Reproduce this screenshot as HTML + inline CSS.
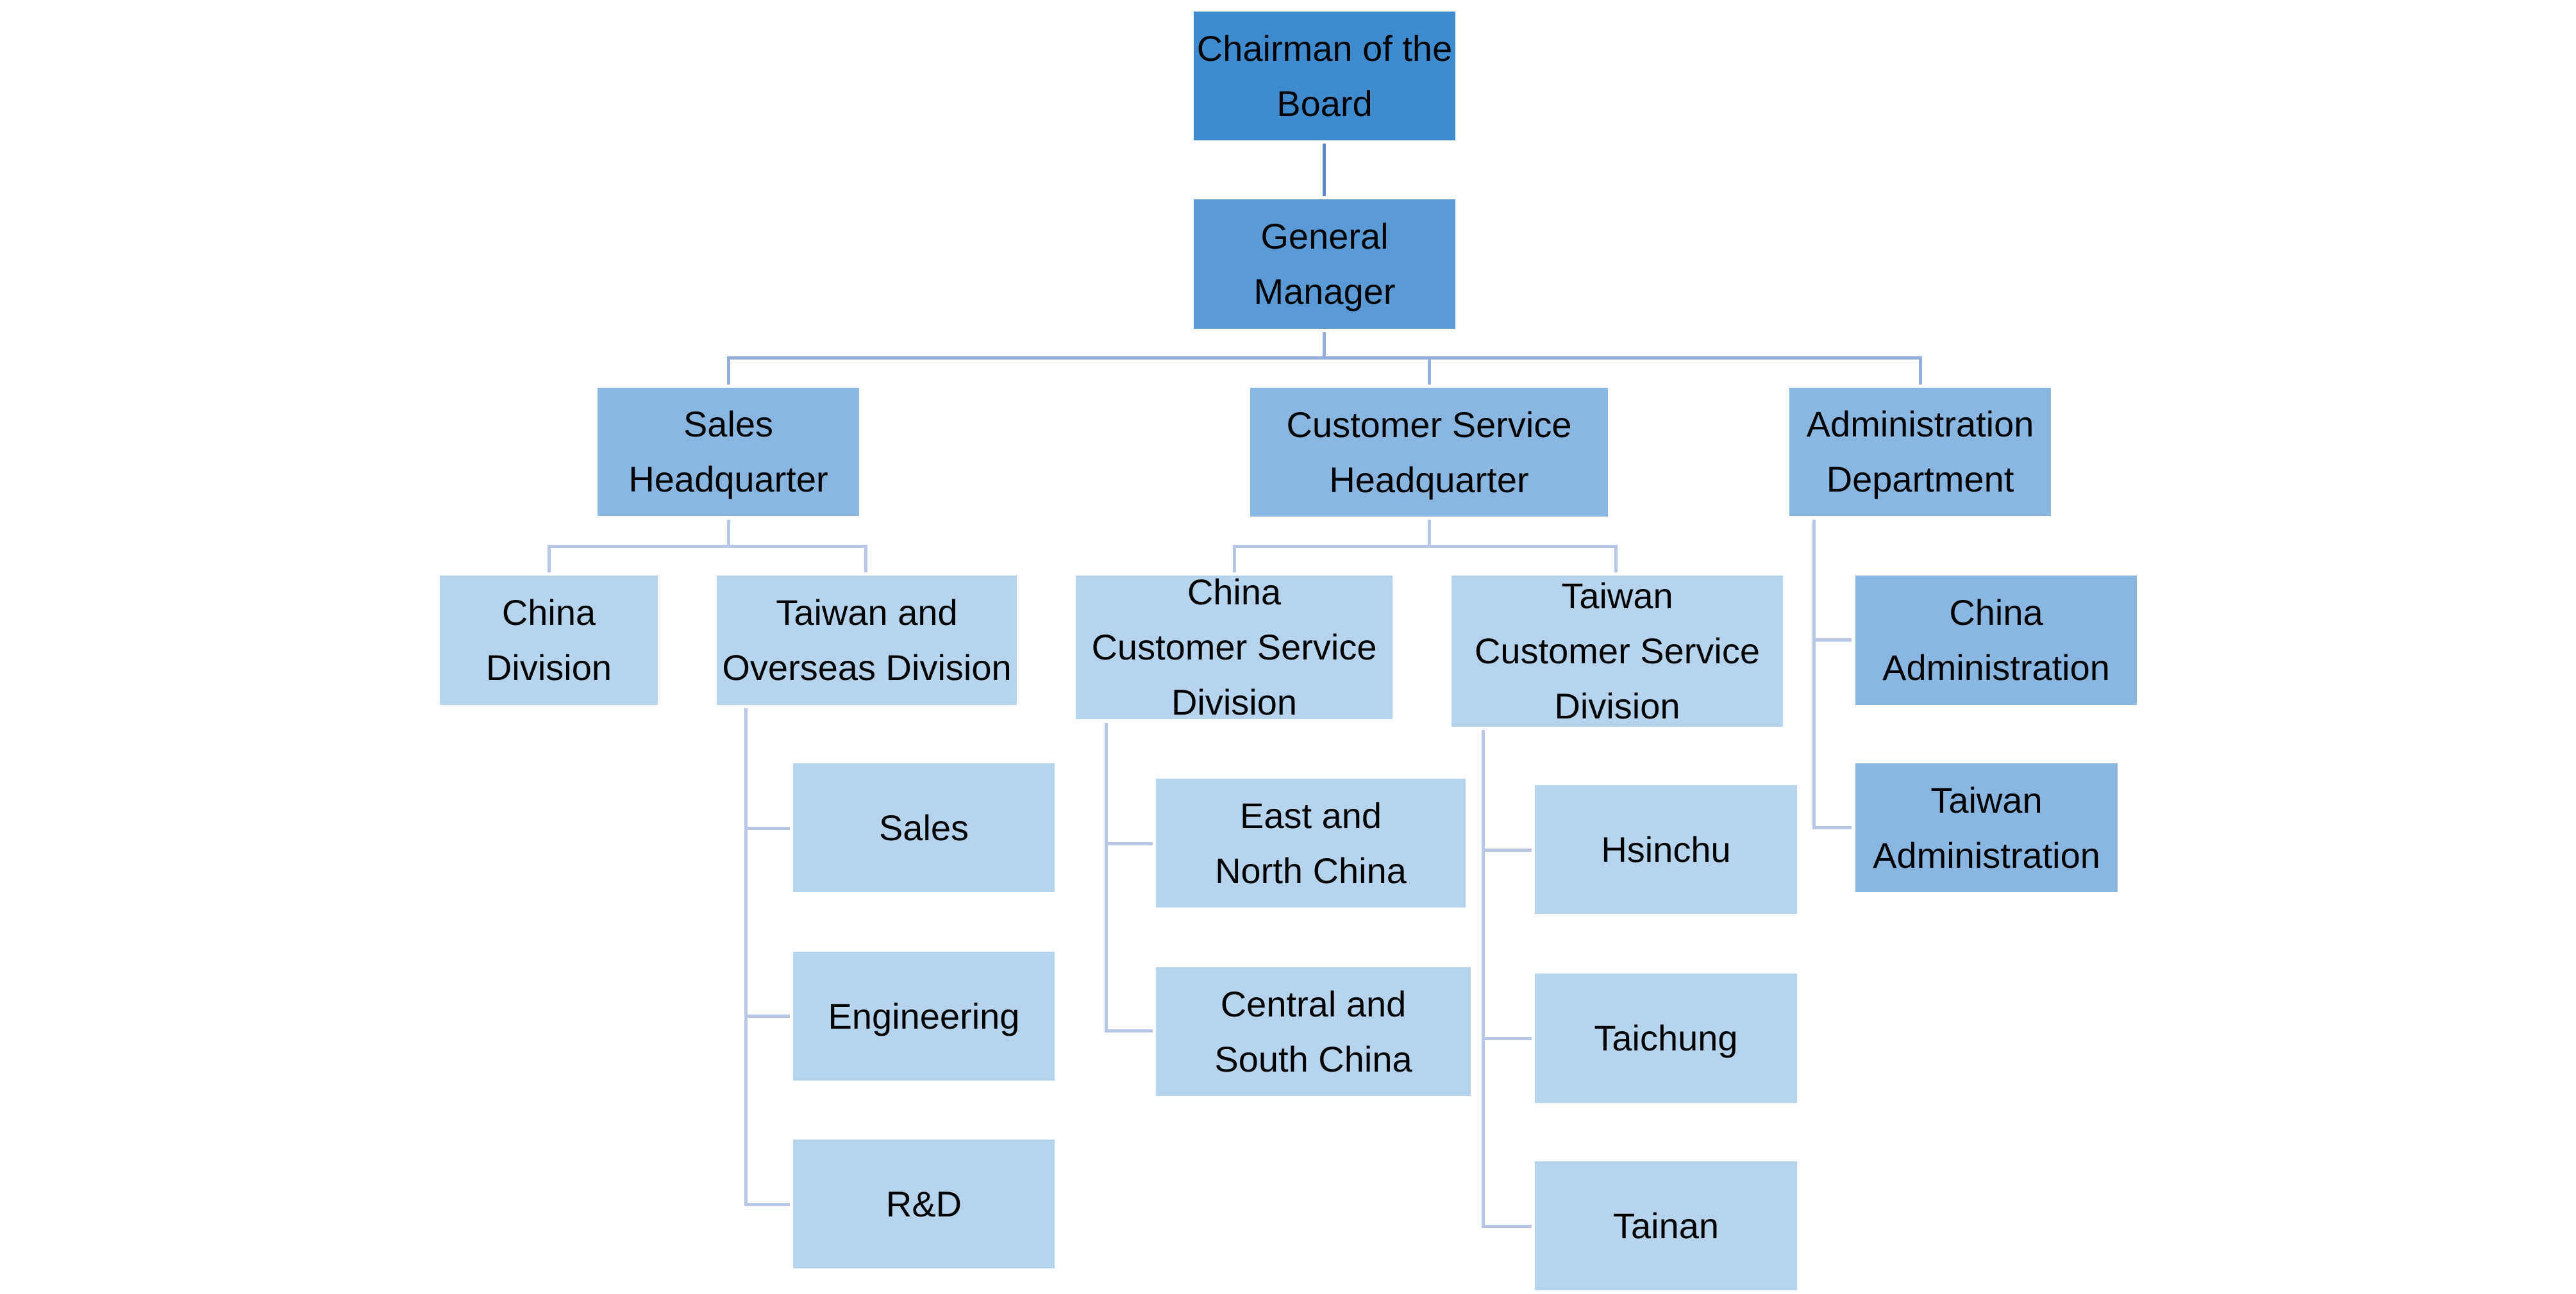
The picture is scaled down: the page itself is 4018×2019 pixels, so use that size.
<!DOCTYPE html>
<html>
<head>
<meta charset="utf-8">
<style>
  html, body { margin:0; padding:0; background:#ffffff; }
  body { width:4018px; height:2019px; position:relative; overflow:hidden;
         font-family:"Liberation Sans", sans-serif; }
  .b { position:absolute; display:flex; align-items:center; justify-content:center;
       text-align:center; color:#000; font-size:56px; line-height:86px; white-space:nowrap; }
  .b span { display:block; }
  .c1 { background:#3f8bcf; }
  .c2 { background:#5a9ad6; }
  .c3 { background:#8ab6e2; }
  .c4 { background:#b6d4ee; }
  .l { position:absolute; }
  .la { background:#5b87c9; }
  .lb { background:#95afdc; }
  .lc { background:#b8c7e7; }
</style>
</head>
<body>

<!-- connectors -->
<div class="l la" style="left:2063px; top:224px; width:5px; height:82px;"></div>

<div class="l lb" style="left:2063px; top:518px; width:5px; height:43px;"></div>
<div class="l lb" style="left:1134px; top:556px; width:1864px; height:5px;"></div>
<div class="l lb" style="left:1134px; top:556px; width:5px; height:44px;"></div>
<div class="l lb" style="left:2227px; top:556px; width:5px; height:44px;"></div>
<div class="l lb" style="left:2993px; top:556px; width:5px; height:44px;"></div>

<!-- Sales HQ children -->
<div class="l lc" style="left:1134px; top:811px; width:5px; height:44px;"></div>
<div class="l lc" style="left:854px; top:850px; width:499px; height:5px;"></div>
<div class="l lc" style="left:854px; top:850px; width:5px; height:43px;"></div>
<div class="l lc" style="left:1348px; top:850px; width:5px; height:43px;"></div>

<!-- CS HQ children -->
<div class="l lc" style="left:2227px; top:811px; width:5px; height:44px;"></div>
<div class="l lc" style="left:1923px; top:850px; width:600px; height:5px;"></div>
<div class="l lc" style="left:1923px; top:850px; width:5px; height:43px;"></div>
<div class="l lc" style="left:2518px; top:850px; width:5px; height:43px;"></div>

<!-- Admin children -->
<div class="l lc" style="left:2827px; top:811px; width:5px; height:483px;"></div>
<div class="l lc" style="left:2827px; top:996px; width:61px; height:5px;"></div>
<div class="l lc" style="left:2827px; top:1289px; width:61px; height:5px;"></div>

<!-- Taiwan & Overseas children -->
<div class="l lc" style="left:1161px; top:1105px; width:5px; height:777px;"></div>
<div class="l lc" style="left:1161px; top:1290px; width:71px; height:5px;"></div>
<div class="l lc" style="left:1161px; top:1583px; width:71px; height:5px;"></div>
<div class="l lc" style="left:1161px; top:1877px; width:71px; height:5px;"></div>

<!-- China CS children -->
<div class="l lc" style="left:1723px; top:1128px; width:5px; height:483px;"></div>
<div class="l lc" style="left:1723px; top:1314px; width:75px; height:5px;"></div>
<div class="l lc" style="left:1723px; top:1606px; width:75px; height:5px;"></div>

<!-- Taiwan CS children -->
<div class="l lc" style="left:2311px; top:1139px; width:5px; height:777px;"></div>
<div class="l lc" style="left:2311px; top:1324px; width:78px; height:5px;"></div>
<div class="l lc" style="left:2311px; top:1618px; width:78px; height:5px;"></div>
<div class="l lc" style="left:2311px; top:1911px; width:78px; height:5px;"></div>

<!-- boxes -->
<div class="b c1" style="left:1862px; top:18px; width:408px; height:201px;"><span>Chairman of the<br>Board</span></div>
<div class="b c2" style="left:1862px; top:311px; width:408px; height:202px;"><span>General<br>Manager</span></div>

<div class="b c3" style="left:932px; top:605px; width:408px; height:200px;"><span>Sales<br>Headquarter</span></div>
<div class="b c3" style="left:1950px; top:605px; width:558px; height:201px;"><span>Customer Service<br>Headquarter</span></div>
<div class="b c3" style="left:2791px; top:605px; width:408px; height:200px;"><span>Administration<br>Department</span></div>

<div class="b c4" style="left:686px; top:898px; width:340px; height:202px;"><span>China<br>Division</span></div>
<div class="b c4" style="left:1118px; top:898px; width:468px; height:202px;"><span>Taiwan and<br>Overseas Division</span></div>
<div class="b c4" style="left:1678px; top:898px; width:494px; height:224px;"><span>China<br>Customer Service<br>Division</span></div>
<div class="b c4" style="left:2264px; top:898px; width:517px; height:236px;"><span>Taiwan<br>Customer Service<br>Division</span></div>

<div class="b c3" style="left:2894px; top:898px; width:439px; height:202px;"><span>China<br>Administration</span></div>
<div class="b c3" style="left:2894px; top:1191px; width:409px; height:201px;"><span>Taiwan<br>Administration</span></div>

<div class="b c4" style="left:1237px; top:1191px; width:408px; height:201px;"><span>Sales</span></div>
<div class="b c4" style="left:1237px; top:1485px; width:408px; height:201px;"><span>Engineering</span></div>
<div class="b c4" style="left:1237px; top:1778px; width:408px; height:201px;"><span>R&amp;D</span></div>

<div class="b c4" style="left:1803px; top:1215px; width:483px; height:201px;"><span>East and<br>North China</span></div>
<div class="b c4" style="left:1803px; top:1509px; width:491px; height:201px;"><span>Central and<br>South China</span></div>

<div class="b c4" style="left:2394px; top:1225px; width:409px; height:201px;"><span>Hsinchu</span></div>
<div class="b c4" style="left:2394px; top:1519px; width:409px; height:202px;"><span>Taichung</span></div>
<div class="b c4" style="left:2394px; top:1812px; width:409px; height:201px;"><span>Tainan</span></div>

</body>
</html>
